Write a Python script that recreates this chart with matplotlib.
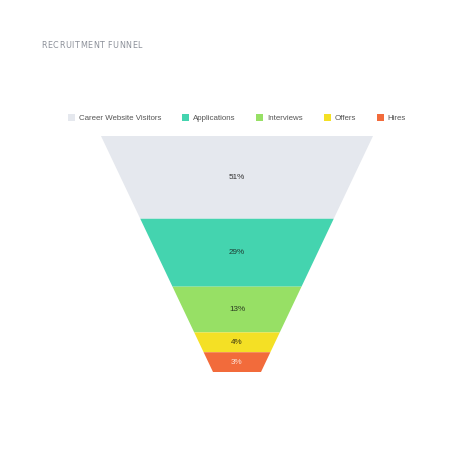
import numpy as np
import matplotlib
matplotlib.use("Agg")
import matplotlib.pyplot as plt
from matplotlib.patches import Patch

stages = ["Career Website Visitors", "Applications", "Interviews", "Offers", "Hires"]
percent = [51, 29, 13, 4, 3]
labels = ["51%", "29%", "13%", "4%", "3%"]
colors = ["#E5E8EE", "#44D4AF", "#97E065", "#F4E025", "#F26B3B"]
label_colors = ["#333333", "#1f3d33", "#2b3a22", "#3a3510", "#fbe3d8"]
title = "RECRUITMENT FUNNEL"

plt.rcParams["font.family"] = ["Liberation Sans", "DejaVu Sans"]

fig = plt.figure(figsize=(4.74, 4.74), dpi=100)
W = H = 474.0

# funnel area in pixels of the original picture
left, right, top, bottom = 101, 373, 136, 372
ax = fig.add_axes([left / W, 1 - bottom / H, (right - left) / W, (bottom - top) / H])

# top width 1, bottom width as a fraction of it
w0 = 1.0
w1 = 48 / 272
total_area = (w0 + w1) / 2


def depth_for(frac):
    # depth where the area above equals frac of the whole funnel
    return (-w0 + np.sqrt(w0 ** 2 + 2 * (w1 - w0) * frac * total_area)) / (w1 - w0)


def width_at(d):
    return w0 + (w1 - w0) * d


cum = np.cumsum([0] + percent) / sum(percent)
depths = [depth_for(f) for f in cum]
depths[-1] = 1.0

for i in range(len(stages)):
    d0, d1 = depths[i], depths[i + 1]
    a, b = width_at(d0) / 2, width_at(d1) / 2
    ax.fill([-a, a, b, -b], [d0, d0, d1, d1], color=colors[i], lw=0)
    ax.text(0, (d0 + d1) / 2, labels[i], ha="center", va="center",
            fontsize=5.9, color=label_colors[i])

ax.set_xlim(-0.5, 0.5)
ax.set_ylim(1, 0)
ax.axis("off")

handles = [Patch(facecolor=c, edgecolor="none") for c in colors]
fig.legend(handles, stages, loc="center", bbox_to_anchor=(237 / W, 1 - 118 / H),
           ncol=5, frameon=False, fontsize=5.7, handlelength=0.9, handleheight=0.9,
           handletextpad=0.5, columnspacing=2.6, labelcolor="#555555")

# letter-spaced title: place each char at the advance of its prefix plus spacing
renderer = fig.canvas.get_renderer()
tprops = dict(fontsize=5.8, color="#8c9099", family="DejaVu Sans", va="center", ha="left")
probe = fig.text(0, 0, "", **tprops)
for i, ch in enumerate(title):
    probe.set_text(title[:i].replace(" ", "-") if i else "")
    adv = probe.get_window_extent(renderer).width if i else 0.0
    if ch != " ":
        fig.text((41 + adv + 0.6 * i) / W, 1 - 46 / H, ch, **tprops)
probe.remove()

fig.savefig("out.png", dpi=100, facecolor="white")
